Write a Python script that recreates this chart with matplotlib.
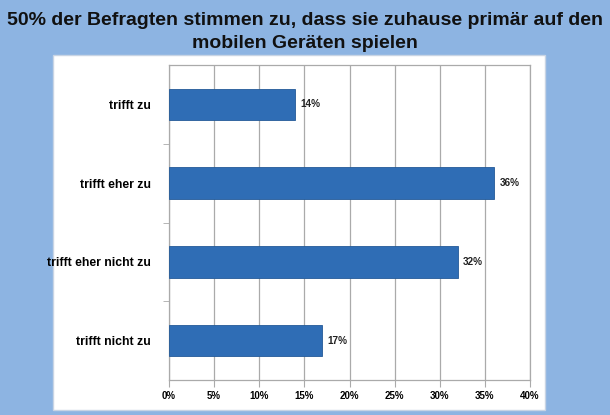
import matplotlib
matplotlib.use("Agg")
import matplotlib.pyplot as plt
from matplotlib.patches import Rectangle
from matplotlib.ticker import FuncFormatter, MultipleLocator

categories = ["trifft zu", "trifft eher zu", "trifft eher nicht zu", "trifft nicht zu"]
values = [14, 36, 32, 17]
value_labels = ["14%", "36%", "32%", "17%"]
title = "50% der Befragten stimmen zu, dass sie zuhause primär auf den\nmobilen Geräten spielen"

FAM = ["Liberation Sans", "DejaVu Sans"]

W, H = 610, 415
fig = plt.figure(figsize=(W / 100, H / 100), dpi=100)
fig.patch.set_facecolor("#8DB4E2")

# white panel
fig.add_artist(Rectangle((53 / W, 1 - 410 / H), (545 - 53) / W, (410 - 55) / H,
                         transform=fig.transFigure, facecolor="white",
                         edgecolor="#C8D4E4", lw=1.0, zorder=0))

fig.text(0.5, 1 - 32 / H, title, ha="center", va="center",
         fontsize=14, fontweight="bold", family=FAM,
         color="#111111", linespacing=1.4)

ax = fig.add_axes([169 / W, 1 - 380 / H, (530 - 169) / W, (380 - 65) / H])
ax.set_facecolor("white")
y = list(range(len(categories)))
ax.barh(y, values, height=0.4, color="#2F6DB5", edgecolor="#245A98", lw=0.6, zorder=3)
for yi, v, lab in zip(y, values, value_labels):
    ax.text(v + 0.6, yi, lab, va="center", ha="left", fontsize=7.2,
            fontweight="bold", color="#222222", zorder=4, family=FAM)

ax.set_xlim(0, 40)
ax.set_ylim(len(categories) - 0.5, -0.5)
ax.xaxis.set_major_locator(MultipleLocator(5))
ax.xaxis.set_major_formatter(FuncFormatter(lambda x, p: f"{x:.0f}%"))
ax.grid(axis="x", color="#AAAAAA", lw=0.9, zorder=0)
ax.set_yticks(y)
ax.set_yticklabels(categories, fontsize=8.8, fontweight="bold", family=FAM)
ax.set_yticks([i + 0.5 for i in range(len(categories) - 1)], minor=True)
ax.tick_params(axis="y", which="major", length=0, pad=13)
ax.tick_params(axis="y", which="minor", length=4, color="#AAAAAA")
ax.tick_params(axis="x", length=5, color="#AAAAAA", labelsize=7, pad=3)
for lab in ax.get_xticklabels():
    lab.set_fontweight("bold")
    lab.set_family(FAM)
for s in ax.spines.values():
    s.set_color("#AAAAAA")
    s.set_linewidth(0.9)

fig.savefig("out.png", dpi=100, facecolor=fig.get_facecolor())
